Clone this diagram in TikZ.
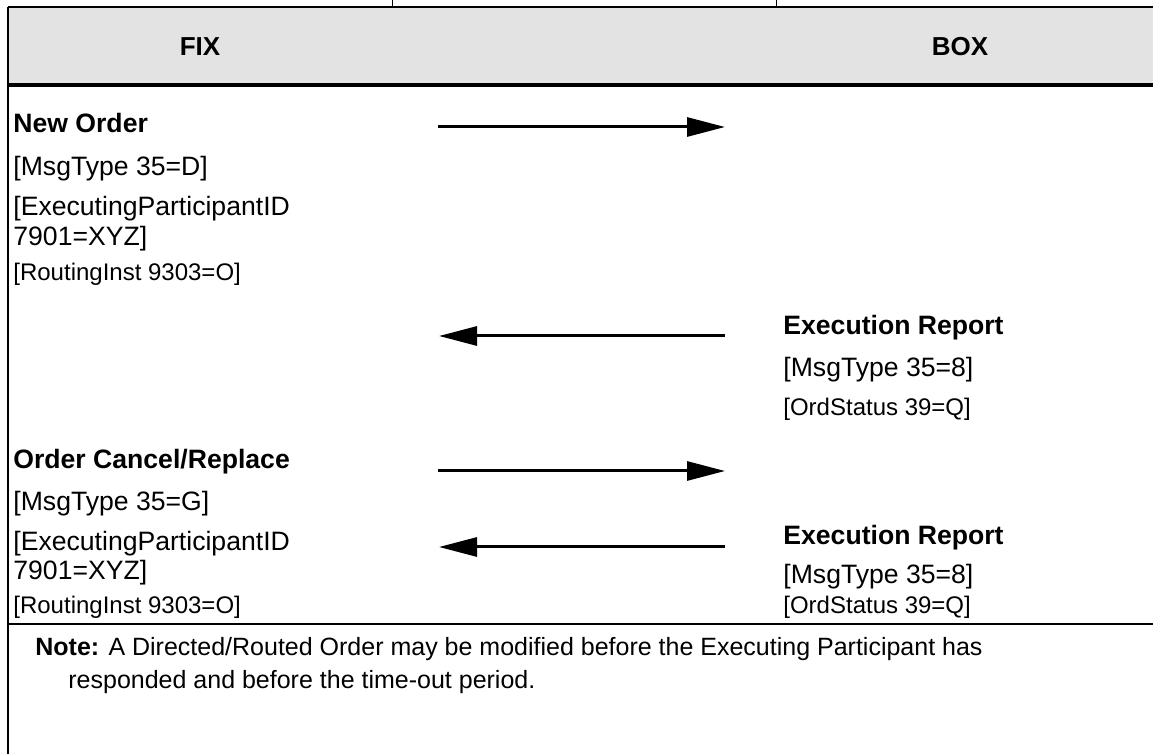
\documentclass[tikz,border=0pt]{standalone}
\usepackage{fontspec}
\setmainfont{Liberation Sans}
\usetikzlibrary{arrows.meta}
\definecolor{hdrgray}{RGB}{227,227,227}
\tikzset{
  hdr/.style={anchor=center, inner sep=0pt, font=\fontsize{13}{15}\selectfont\bfseries},
  msgtitle/.style={anchor=base west, inner sep=0pt, font=\fontsize{13.3}{16}\selectfont\bfseries},
  msgline/.style={anchor=base west, inner sep=0pt, font=\fontsize{13.3}{16}\selectfont},
  msgsmall/.style={anchor=base west, inner sep=0pt, font=\fontsize{12}{14}\selectfont},
  notetext/.style={anchor=base west, inner sep=0pt, font=\fontsize{12.5}{15}\selectfont},
  msgarrow/.style={line width=1.5pt, -{Triangle[length=19pt,width=9.5pt]}},
  frame/.style={line width=1pt}
}
\begin{document}
\begin{tikzpicture}[x=0.5pt,y=-0.5pt]
\useasboundingbox (0,0) rectangle (1153,754);
% header band
\fill[hdrgray] (8,7) rectangle (1153,85);
\draw[line width=0.75pt] (8,7) -- (1153,7);
\draw[line width=1.6pt] (8,85) -- (1153,85);
\draw[line width=1.3pt] (8,624) -- (1153,624);
\draw[frame] (8,7) -- (8,754);
\draw[line width=0.3pt] (392,0) -- (392,7);
\draw[line width=0.3pt] (776,0) -- (776,7);
\node[hdr] (fix) at (200,47) {FIX};
\node[hdr] (box) at (960,47) {BOX};
% left group 1
\node[msgtitle] (no) at (13,133) {New Order};
\node[msgline] (no1) at (13,176) {[MsgType 35=D]};
\node[msgline] (no2) at (13,216) {[ExecutingParticipantID};
\node[msgline] (no3) at (13,246) {7901=XYZ]};
\node[msgsmall] (no4) at (13,281) {[RoutingInst 9303=O]};
% right group 1
\node[msgtitle] (er) at (783,335) {Execution Report};
\node[msgline] (er1) at (783,377) {[MsgType 35=8]};
\node[msgsmall] (er2) at (783,416) {[OrdStatus 39=Q]};
% left group 2
\node[msgtitle] (ocr) at (13,469) {Order Cancel/Replace};
\node[msgline] (ocr1) at (13,511) {[MsgType 35=G]};
\node[msgline] (ocr2) at (13,551) {[ExecutingParticipantID};
\node[msgline] (ocr3) at (13,580) {7901=XYZ]};
\node[msgsmall] (ocr4) at (13,614) {[RoutingInst 9303=O]};
% right group 2
\node[msgtitle] (erb) at (783,545) {Execution Report};
\node[msgline] (erb1) at (783,583) {[MsgType 35=8]};
\node[msgsmall] (erb2) at (783,614) {[OrdStatus 39=Q]};
% arrows
\coordinate (a1s) at (438,127); \coordinate (a1e) at (725,127);
\coordinate (a2s) at (725,336); \coordinate (a2e) at (439,336);
\coordinate (a3s) at (438,471); \coordinate (a3e) at (725,471);
\coordinate (a4s) at (725,547); \coordinate (a4e) at (439,547);
\draw[msgarrow] (a1s) -- (a1e);
\draw[msgarrow] (a2s) -- (a2e);
\draw[msgarrow] (a3s) -- (a3e);
\draw[msgarrow] (a4s) -- (a4e);
% note
\node[notetext] (note1) at (35,655) {\textbf{Note:} A Directed/Routed Order may be modified before the Executing Participant has};
\node[notetext] (note2) at (68,689) {responded and before the time-out period.};
\end{tikzpicture}
\end{document}
